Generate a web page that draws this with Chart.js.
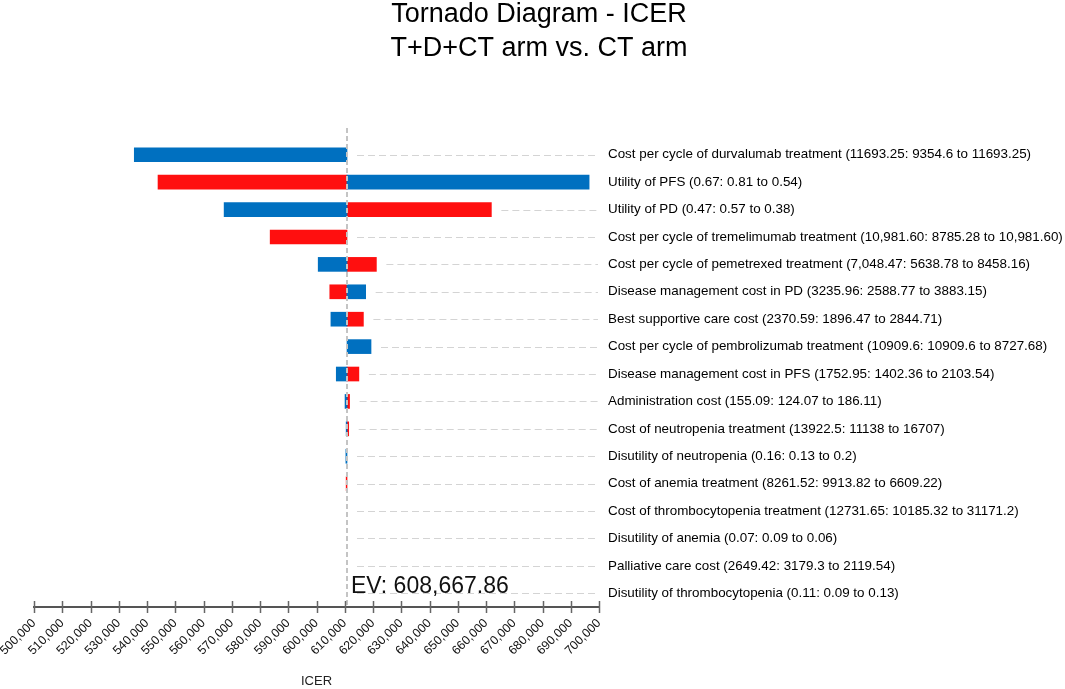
<!DOCTYPE html>
<html>
<head>
<meta charset="utf-8">
<title>Tornado Diagram - ICER</title>
<script src="https://cdn.jsdelivr.net/npm/chart.js@4/dist/chart.umd.min.js"></script>
<style>
  html, body { margin: 0; padding: 0; background: #fff; }
  #wrap { width: 1065px; height: 689px; }
</style>
</head>
<body>
<div id="wrap"><canvas id="tornadoChart" width="1065" height="689"></canvas></div>
<script>
// ===== DATA =====
const parameters = [
  "Cost per cycle of durvalumab treatment (11693.25: 9354.6 to 11693.25)",
  "Utility of PFS (0.67: 0.81 to 0.54)",
  "Utility of PD (0.47: 0.57 to 0.38)",
  "Cost per cycle of tremelimumab treatment (10,981.60: 8785.28 to 10,981.60)",
  "Cost per cycle of pemetrexed treatment (7,048.47: 5638.78 to 8458.16)",
  "Disease management cost in PD (3235.96: 2588.77 to 3883.15)",
  "Best supportive care cost (2370.59: 1896.47 to 2844.71)",
  "Cost per cycle of pembrolizumab treatment (10909.6: 10909.6 to 8727.68)",
  "Disease management cost in PFS (1752.95: 1402.36 to 2103.54)",
  "Administration cost (155.09: 124.07 to 186.11)",
  "Cost of neutropenia treatment (13922.5: 11138 to 16707)",
  "Disutility of neutropenia (0.16: 0.13 to 0.2)",
  "Cost of anemia treatment (8261.52: 9913.82 to 6609.22)",
  "Cost of thrombocytopenia treatment (12731.65: 10185.32 to 31171.2)",
  "Disutility of anemia (0.07: 0.09 to 0.06)",
  "Palliative care cost (2649.42: 3179.3 to 2119.54)",
  "Disutility of thrombocytopenia (0.11: 0.09 to 0.13)"
];

// ICER at each end of the range (null = no visible bar)
const blueIcer = [535500, 696500, 567300, null, 600600, 617400, 605100, 619300, 607000, 610100, 610500, 610400, null, null, null, null, null];
const redIcer  = [null, 543900, 661900, 583600, 621200, 604700, 616600, null, 615000, 611700, 611400, null, 610500, null, null, null, null];

const evValue = 608667.86;   // expected value shown in the label
const centerIcer = 610800;   // where the centre line sits on the axis in the picture

const xMin = 500000;
const xMax = 700000;
const xStep = 10000;

const FONT = "'Liberation Sans', Arial, Helvetica, sans-serif";

function toRange(v) {
  return v == null ? null : [centerIcer, v];
}

// dashed guide lines, centre line, tick marks and EV label
const tornadoDecor = {
  id: "tornadoDecor",
  afterDatasetsDraw(chart) {
    const ctx = chart.ctx;
    const area = chart.chartArea;
    const xs = chart.scales.x;
    const ys = chart.scales.y;
    const basePx = xs.getPixelForValue(centerIcer);

    ctx.save();

    // row guide lines
    ctx.strokeStyle = "#d4d4d4";
    ctx.lineWidth = 1;
    ctx.setLineDash([7, 4]);
    parameters.forEach((p, i) => {
      const y = Math.round(ys.getPixelForValue(i)) + 0.5;
      let end = basePx;
      if (blueIcer[i] != null) end = Math.max(end, xs.getPixelForValue(blueIcer[i]));
      if (redIcer[i] != null) end = Math.max(end, xs.getPixelForValue(redIcer[i]));
      const start = end + 10;
      if (start < area.right - 2) {
        ctx.beginPath();
        ctx.moveTo(start, y);
        ctx.lineTo(area.right - 1, y);
        ctx.stroke();
      }
    });

    // centre line
    ctx.strokeStyle = "#c4c4c4";
    ctx.lineWidth = 2;
    ctx.setLineDash([5, 3]);
    ctx.beginPath();
    ctx.moveTo(basePx, area.top - 13);
    ctx.lineTo(basePx, area.bottom);
    ctx.stroke();

    // tick marks across the axis
    ctx.setLineDash([]);
    ctx.strokeStyle = "#666";
    ctx.lineWidth = 1.5;
    xs.ticks.forEach((t) => {
      const x = Math.round(xs.getPixelForValue(t.value)) + 0.5;
      ctx.beginPath();
      ctx.moveTo(x, area.bottom - 6);
      ctx.lineTo(x, area.bottom + 6);
      ctx.stroke();
    });

    // EV label
    ctx.fillStyle = "#111";
    ctx.font = "23px " + FONT;
    ctx.textAlign = "left";
    ctx.textBaseline = "alphabetic";
    ctx.fillText(
      "EV: " + evValue.toLocaleString("en-US", { minimumFractionDigits: 2, maximumFractionDigits: 2 }),
      basePx + 4,
      593
    );

    ctx.restore();
  }
};

const ctx = document.getElementById("tornadoChart").getContext("2d");

new Chart(ctx, {
  type: "bar",
  data: {
    labels: parameters,
    datasets: [
      {
        label: "Low",
        data: blueIcer.map(toRange),
        backgroundColor: "#0070C0",
        borderWidth: 0,
        barThickness: 14,
        grouped: false
      },
      {
        label: "High",
        data: redIcer.map(toRange),
        backgroundColor: "#FF0F0F",
        borderWidth: 0,
        barThickness: 14,
        grouped: false
      }
    ]
  },
  options: {
    indexAxis: "y",
    responsive: false,
    animation: false,
    layout: {
      padding: { left: 13, right: 0, top: 0, bottom: 0 }
    },
    scales: {
      x: {
        min: xMin,
        max: xMax,
        grid: { display: false },
        border: { display: true, color: "#555", width: 2 },
        ticks: {
          stepSize: xStep,
          autoSkip: false,
          minRotation: 45,
          maxRotation: 45,
          padding: 1,
          color: "#111",
          font: { family: FONT, size: 12.4 },
          callback: (value) => Number(value).toLocaleString("en-US")
        },
        title: {
          display: true,
          text: "ICER",
          color: "#222",
          font: { family: FONT, size: 13 },
          padding: { top: 0, bottom: 0 }
        },
        afterFit: (scale) => {
          scale.height = 82;
          scale.paddingLeft = 34;
        }
      },
      y: {
        position: "right",
        grid: { display: false, drawTicks: false },
        border: { display: false },
        ticks: {
          padding: 9,
          color: "#000",
          font: { family: FONT, size: 13.4 }
        },
        afterFit: (scale) => { scale.width = 466; }
      }
    },
    plugins: {
      legend: { display: false },
      tooltip: { enabled: false },
      title: {
        display: true,
        text: ["Tornado Diagram - ICER", "T+D+CT arm vs. CT arm"],
        color: "#000",
        font: { family: FONT, size: 27, weight: "normal", lineHeight: 1.26 },
        padding: { top: -2.5, bottom: 75.5 }
      }
    }
  },
  plugins: [tornadoDecor]
});
</script>
</body>
</html>
